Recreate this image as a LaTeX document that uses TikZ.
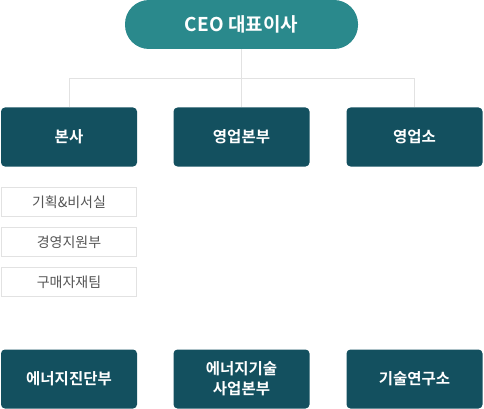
\documentclass[tikz,border=0pt]{standalone}
\usepackage{fontspec}
\setmainfont{Noto Sans CJK KR}[BoldFont={Noto Sans CJK KR Bold}]
\definecolor{ceoc}{HTML}{2A898C}
\definecolor{darkc}{HTML}{13505F}
\definecolor{linec}{HTML}{E2E2E2}
\definecolor{subtext}{HTML}{555555}
\begin{document}
\begin{tikzpicture}[x=1pt,y=-1pt,
  darkbox/.style={fill=darkc,rounded corners=4pt,minimum width=136pt,minimum height=59pt,inner sep=0pt,text=white,font=\bfseries\fontsize{15.5}{20}\selectfont,align=center},
  subbox/.style={draw=linec,line width=1pt,fill=white,minimum width=135pt,minimum height=29pt,inner sep=0pt,text=subtext,font=\fontsize{14}{16}\selectfont},
  conn/.style={draw=linec,line width=1pt}]
\useasboundingbox (0,0) rectangle (484,409);
\node[fill=ceoc,rounded corners=24pt,minimum width=233pt,minimum height=49pt,inner sep=0pt,text=white,font=\bfseries\fontsize{19}{22}\selectfont] (ceo) at (241.5,24.5) {CEO 대표이사};
\node[darkbox] (hq) at (69,137) {본사};
\node[darkbox] (sales) at (241.5,137) {영업본부};
\node[darkbox] (office) at (414.5,137) {영업소};
\node[subbox] (s1) at (69,202) {기획\&비서실};
\node[subbox] (s2) at (69,242) {경영지원부};
\node[subbox] (s3) at (69,282) {구매자재팀};
\node[darkbox] (b1) at (69,379) {에너지진단부};
\node[darkbox] (b2) at (241.5,379) {에너지기술\\사업본부};
\node[darkbox] (b3) at (414.5,379) {기술연구소};
\coordinate (j) at (241.5,79);
\draw[conn] (ceo.south) -- (j);
\draw[conn] (hq.north) -- (hq.north |- j) -- (office.north |- j) -- (office.north);
\draw[conn] (j) -- (sales.north);
\end{tikzpicture}
\end{document}
